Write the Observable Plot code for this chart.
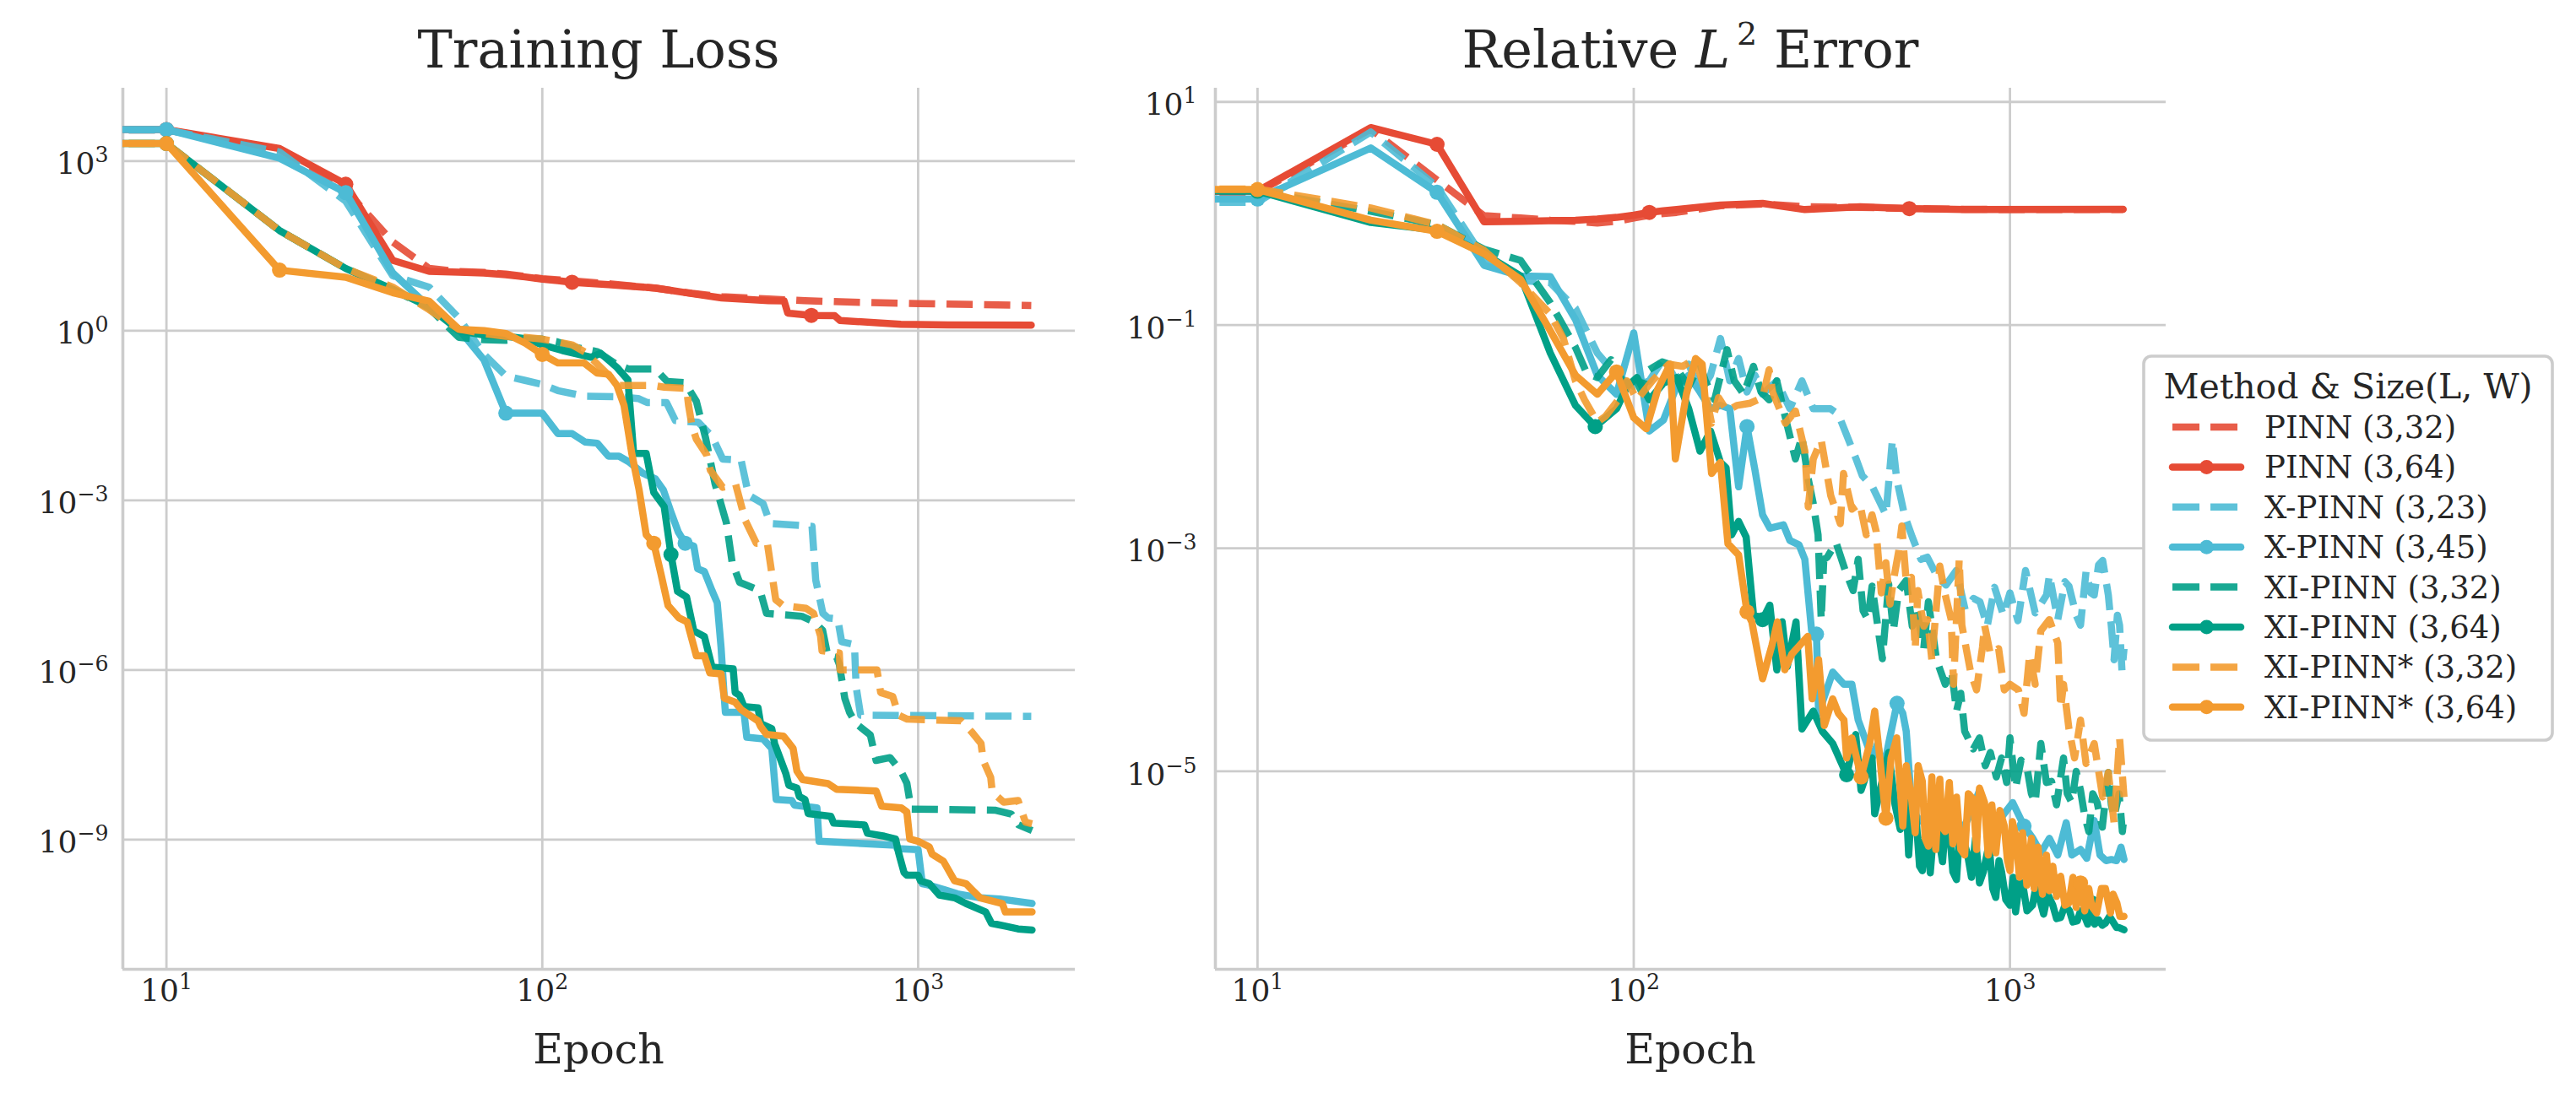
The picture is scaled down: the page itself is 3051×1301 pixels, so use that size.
<!DOCTYPE html>
<html><head><meta charset="utf-8">
<script src="https://cdn.jsdelivr.net/npm/d3@7"></script>
<script src="https://cdn.jsdelivr.net/npm/@observablehq/plot@0.6"></script>
<style>
body{margin:0;background:#fff;}
#fig{position:relative;width:3051px;height:1301px;overflow:hidden;background:#fff;font-family:"DejaVu Serif",serif;color:#262626;}
#fig svg{position:absolute;top:0;}
</style></head>
<body><div id="fig"></div>
<script>
// ---------- series meta ----------
const seriesNames = ["PINN (3,32)","PINN (3,64)","X-PINN (3,23)","X-PINN (3,45)","XI-PINN (3,32)","XI-PINN (3,64)","XI-PINN* (3,32)","XI-PINN* (3,64)"];
const seriesColors = ["#E64B35","#E64B35","#4DBBD5","#4DBBD5","#00A087","#00A087","#F39B2F","#F39B2F"];
const seriesDashed = [true,false,true,false,true,false,true,false];

// ---------- Training loss: [epoch, log10(loss)] ----------
const lossPINN32 = [[0,3.55],[10,3.55],[20,3.20],[30,2.49],[40,1.57],[50,1.10],[60,1.045],[70,1.03],[80,1.0],[90,0.96],[100,0.92],[120,0.88],[150,0.83],[200,0.75],[250,0.66],[300,0.60],[400,0.56],[500,0.53],[700,0.50],[1000,0.48],[1500,0.46],[2000,0.445]];
const lossPINN64 = [[0,3.56],[10,3.557],[20,3.22],[30,2.59],[40,1.244],[50,1.05],[60,1.035],[70,1.02],[80,0.99],[90,0.95],[100,0.91],[110,0.885],[120,0.856],[130,0.84],[150,0.815],[200,0.754],[250,0.655],[300,0.58],[400,0.531],[440,0.525],[450,0.31],[520,0.27],[600,0.265],[620,0.18],[900,0.113],[1200,0.10],[2000,0.098]];
const lossXPINN23 = [[0,3.55],[10,3.55],[20,3.16],[30,2.29],[40,0.97],[50,0.77],[60,0.224],[70,-0.42],[80,-0.80],[90,-0.88],[100,-0.95],[110,-1.06],[130,-1.16],[160,-1.17],[180,-1.2],[190,-1.27],[214,-1.27],[226,-1.59],[260,-1.62],[283,-1.87],[302,-2.27],[338,-2.29],[354,-2.91],[387,-3.06],[404,-3.41],[522,-3.46],[534,-4.41],[558,-5.0],[576,-5.08],[611,-5.1],[626,-5.5],[677,-5.55],[684,-6.3],[703,-6.8],[2000,-6.82]];
const lossXPINN45 = [[0,3.557],[10,3.557],[20,3.05],[30,2.44],[40,1.02],[50,0.42],[60,0.025],[70,-0.52],[80,-1.46],[90,-1.46],[100,-1.46],[110,-1.82],[120,-1.82],[130,-1.97],[140,-1.99],[150,-2.22],[160,-2.22],[170,-2.32],[185,-2.52],[200,-2.62],[210,-2.82],[220,-3.21],[230,-3.56],[240,-3.76],[253,-3.81],[259,-4.21],[270,-4.26],[283,-4.6],[292,-4.81],[299,-5.6],[305,-6.5],[307,-6.75],[344,-6.75],[350,-7.19],[387,-7.22],[408,-7.39],[419,-8.29],[461,-8.31],[469,-8.39],[538,-8.44],[545,-9.03],[871,-9.1],[880,-9.16],[1000,-9.18],[1026,-9.78],[1060,-9.8],[1167,-9.88],[1273,-9.96],[1462,-10.03],[1649,-10.05],[2010,-10.13]];
const lossXI32 = [[0,3.31],[10,3.31],[20,1.77],[30,1.10],[40,0.73],[50,0.40],[60,-0.12],[70,-0.16],[80,-0.17],[90,-0.14],[100,-0.15],[110,-0.2],[120,-0.28],[130,-0.33],[140,-0.37],[158,-0.6],[170,-0.68],[200,-0.68],[215,-0.9],[240,-0.92],[257,-1.25],[272,-1.9],[288,-2.7],[309,-3.4],[320,-4.1],[335,-4.45],[380,-4.6],[395,-5.0],[490,-5.05],[528,-5.15],[557,-5.3],[575,-5.75],[607,-5.78],[617,-5.9],[638,-6.5],[657,-6.75],[684,-6.95],[746,-7.15],[773,-7.6],[842,-7.55],[902,-7.8],[933,-8.0],[958,-8.46],[1600,-8.48],[1770,-8.55],[1850,-8.74],[2010,-8.84]];
const lossXI64 = [[0,3.31],[10,3.31],[20,1.77],[30,1.10],[40,0.73],[50,0.42],[60,0.0],[70,-0.08],[80,-0.10],[90,-0.14],[100,-0.25],[113,-0.35],[135,-0.47],[143,-0.40],[158,-0.65],[169,-0.87],[175,-2.17],[189,-2.17],[198,-2.86],[211,-3.11],[220,-3.96],[229,-4.61],[242,-4.71],[253,-5.31],[270,-5.41],[283,-5.95],[322,-5.98],[326,-6.4],[335,-6.45],[344,-6.65],[375,-6.67],[381,-6.95],[408,-7.04],[415,-7.3],[445,-7.84],[453,-8.04],[476,-8.09],[483,-8.24],[500,-8.29],[510,-8.54],[586,-8.59],[596,-8.71],[720,-8.74],[733,-8.89],[813,-8.94],[871,-8.99],[887,-9.23],[917,-9.58],[933,-9.63],[1000,-9.63],[1015,-9.73],[1071,-9.78],[1138,-9.98],[1250,-10.03],[1340,-10.13],[1513,-10.28],[1567,-10.48],[1707,-10.53],[1845,-10.58],[2010,-10.6]];
const lossXIs32 = [[0,3.31],[10,3.31],[20,1.77],[30,1.10],[40,0.77],[50,0.37],[60,0.025],[70,-0.05],[80,-0.1],[90,-0.12],[100,-0.15],[110,-0.2],[120,-0.25],[130,-0.38],[160,-0.97],[198,-0.97],[211,-1.0],[242,-1.02],[245,-1.32],[250,-1.67],[257,-1.92],[274,-2.2],[280,-2.47],[302,-2.77],[327,-2.72],[339,-3.11],[347,-3.36],[371,-3.76],[397,-3.76],[418,-4.76],[437,-4.86],[503,-4.91],[527,-5.0],[550,-5.4],[555,-5.66],[617,-5.7],[620,-6.0],[724,-6.0],[777,-6.0],[795,-6.4],[856,-6.47],[887,-6.8],[935,-6.87],[1300,-6.9],[1390,-7.1],[1470,-7.3],[1490,-7.6],[1560,-7.9],[1575,-8.16],[1690,-8.34],[1845,-8.31],[1930,-8.69],[2010,-8.72]];
const lossXIs64 = [[0,3.31],[10,3.31],[20,1.07],[30,0.945],[40,0.672],[50,0.52],[60,0.025],[70,0.0],[80,-0.05],[90,-0.22],[100,-0.42],[110,-0.57],[129,-0.57],[140,-0.75],[150,-0.77],[158,-0.97],[165,-1.32],[173,-2.17],[181,-2.82],[189,-3.61],[198,-3.76],[207,-4.31],[216,-4.86],[231,-5.08],[243,-5.15],[257,-5.75],[270,-5.75],[279,-6.05],[299,-6.07],[305,-6.5],[326,-6.57],[338,-6.7],[356,-6.8],[375,-6.9],[381,-7.0],[395,-7.14],[438,-7.17],[453,-7.29],[465,-7.39],[476,-7.79],[493,-7.94],[576,-8.01],[607,-8.11],[773,-8.14],[800,-8.41],[902,-8.44],[933,-8.51],[950,-8.99],[1000,-9.03],[1071,-9.13],[1090,-9.26],[1167,-9.38],[1250,-9.73],[1341,-9.78],[1387,-9.88],[1462,-10.03],[1675,-10.13],[1706,-10.28],[2010,-10.28]];

// ---------- Relative L2 error: [epoch, log10(error)] ----------
const errPINN32 = [[0,0.17],[10,0.19],[20,0.756],[30,0.30],[40,-0.02],[50,-0.04],[60,-0.06],[70,-0.07],[80,-0.085],[90,-0.07],[100,-0.04],[110,-0.015],[120,0.0],[130,0.01],[170,0.07],[220,0.085],[285,0.06],[400,0.055],[540,0.045],[760,0.037],[2000,0.035]];
const errPINN64 = [[0,0.18],[10,0.2],[20,0.77],[30,0.62],[40,-0.074],[50,-0.07],[60,-0.065],[70,-0.06],[80,-0.05],[90,-0.035],[100,-0.015],[110,0.01],[120,0.025],[130,0.035],[170,0.076],[220,0.09],[285,0.035],[400,0.06],[540,0.044],[760,0.036],[2000,0.038]];
const errXPINN23 = [[0,0.10],[10,0.10],[20,0.73],[30,0.24],[40,-0.40],[50,-0.60],[60,-0.62],[70,-0.85],[80,-1.25],[90,-1.45],[100,-1.55],[110,-1.5],[120,-1.3],[130,-1.5],[140,-1.35],[150,-1.6],[160,-1.45],[170,-1.12],[180,-1.5],[190,-1.3],[200,-1.6],[210,-1.45],[220,-1.62],[240,-1.5],[260,-1.75],[280,-1.5],[300,-1.75],[333,-1.75],[350,-1.8],[390,-2.2],[405,-2.35],[431,-2.45],[468,-2.7],[487,-2.03],[500,-2.38],[525,-2.71],[550,-2.9],[580,-3.1],[603,-3.08],[640,-3.25],[676,-3.33],[720,-3.2],[760,-3.55],[800,-3.45],[832,-3.48],[870,-3.7],[910,-3.35],[960,-3.6],[1000,-3.4],[1050,-3.65],[1100,-3.2],[1167,-3.58],[1251,-3.42],[1273,-3.24],[1340,-3.64],[1400,-3.3],[1435,-3.34],[1500,-3.6],[1540,-3.69],[1593,-3.21],[1640,-3.4],[1675,-3.42],[1720,-3.15],[1764,-3.11],[1826,-3.42],[1860,-3.7],[1891,-4.0],[1930,-3.6],[1956,-3.69],[1985,-4.1],[2010,-3.9]];
const errXPINN45 = [[0,0.127],[10,0.13],[20,0.587],[30,0.19],[40,-0.464],[50,-0.56],[60,-0.565],[70,-0.95],[80,-1.45],[90,-1.62],[100,-1.07],[110,-1.95],[120,-1.85],[130,-1.55],[140,-1.45],[150,-1.6],[160,-1.75],[170,-1.72],[180,-1.75],[190,-2.45],[200,-1.91],[210,-2.3],[220,-2.7],[230,-2.82],[250,-2.79],[260,-2.93],[275,-2.97],[285,-3.1],[297,-3.74],[306,-3.77],[310,-4.48],[338,-4.11],[362,-4.22],[380,-4.22],[395,-4.54],[430,-4.88],[445,-4.75],[460,-5.01],[476,-4.75],[501,-4.39],[519,-4.48],[530,-4.64],[547,-5.28],[565,-5.41],[607,-5.49],[640,-5.3],[673,-5.54],[721,-5.62],[786,-5.38],[830,-5.17],[887,-5.54],[950,-5.41],[1017,-5.28],[1090,-5.49],[1150,-5.6],[1208,-5.73],[1273,-5.6],[1340,-5.75],[1411,-5.46],[1460,-5.75],[1540,-5.7],[1600,-5.78],[1675,-5.44],[1735,-5.75],[1800,-5.8],[1860,-5.79],[1920,-5.8],[1973,-5.68],[2010,-5.79]];
const errXI32 = [[0,0.2],[10,0.2],[20,0.02],[30,-0.1],[40,-0.32],[50,-0.42],[60,-0.8],[70,-1.2],[75,-1.43],[80,-1.47],[87,-1.31],[95,-1.55],[100,-1.45],[105,-1.6],[110,-1.4],[119,-1.33],[129,-1.37],[140,-1.55],[150,-1.35],[155,-1.5],[164,-1.67],[177,-1.22],[185,-1.5],[196,-1.62],[208,-1.37],[218,-1.6],[229,-1.67],[240,-1.5],[253,-1.83],[269,-2.2],[280,-2.0],[291,-2.38],[300,-2.6],[309,-2.88],[315,-3.64],[320,-3.1],[327,-3.08],[345,-2.95],[365,-3.2],[383,-3.38],[395,-3.1],[407,-3.56],[419,-3.64],[430,-3.34],[458,-3.99],[476,-3.32],[490,-3.74],[506,-3.38],[530,-3.29],[550,-3.7],[566,-3.56],[590,-3.9],[607,-3.48],[638,-4.0],[673,-4.22],[700,-4.1],[721,-4.46],[740,-4.3],[758,-4.64],[799,-4.8],[830,-4.7],[860,-4.95],[887,-4.83],[920,-5.05],[950,-4.88],[980,-5.1],[1000,-4.70],[1035,-5.15],[1070,-4.9],[1109,-4.96],[1140,-5.2],[1167,-5.28],[1208,-4.75],[1250,-5.1],[1290,-5.09],[1330,-5.3],[1388,-4.88],[1420,-5.2],[1460,-5.28],[1500,-5.0],[1540,-5.17],[1580,-5.4],[1621,-5.54],[1660,-5.2],[1705,-5.28],[1760,-5.5],[1826,-5.01],[1860,-5.3],[1891,-5.41],[1950,-5.2],[1990,-5.54],[2010,-5.4]];
const errXI64 = [[0,0.215],[10,0.2],[20,-0.08],[30,-0.15],[40,-0.36],[50,-0.56],[60,-1.25],[70,-1.72],[79,-1.91],[90,-1.75],[96,-1.55],[102,-1.47],[110,-1.67],[120,-1.52],[130,-1.47],[140,-1.75],[150,-2.13],[160,-1.95],[170,-2.23],[176,-2.28],[182,-2.88],[190,-2.76],[199,-2.9],[208,-3.59],[220,-3.64],[230,-3.51],[240,-4.09],[248,-3.66],[256,-4.06],[270,-3.66],[280,-4.62],[300,-4.46],[317,-4.64],[338,-4.75],[368,-5.03],[389,-4.67],[402,-5.17],[430,-4.88],[437,-5.38],[476,-4.83],[495,-5.3],[511,-5.52],[525,-5.0],[538,-5.75],[550,-5.2],[560,-5.3],[575,-5.85],[585,-5.89],[600,-5.4],[614,-5.91],[630,-5.45],[640,-5.5],[662,-5.81],[675,-5.45],[690,-5.5],[705,-5.9],[721,-5.97],[735,-5.55],[750,-5.6],[772,-5.75],[790,-5.95],[810,-5.6],[830,-6.0],[850,-5.9],[880,-5.65],[900,-6.05],[917,-6.13],[935,-5.8],[950,-5.9],[975,-6.15],[1000,-6.2],[1020,-5.95],[1035,-6.26],[1060,-6.0],[1080,-6.0],[1110,-6.25],[1148,-6.2],[1170,-6.05],[1190,-6.1],[1229,-6.28],[1260,-6.1],[1300,-6.2],[1330,-6.32],[1364,-6.31],[1400,-6.2],[1440,-6.25],[1470,-6.35],[1510,-6.34],[1540,-6.25],[1580,-6.3],[1610,-6.37],[1650,-6.18],[1680,-6.37],[1720,-6.33],[1760,-6.38],[1794,-6.36],[1840,-6.3],[1880,-6.35],[1920,-6.4],[1950,-6.4],[2010,-6.42]];
const errXIs32 = [[0,0.215],[10,0.22],[20,0.05],[30,-0.1],[40,-0.33],[50,-0.62],[60,-0.9],[65,-1.12],[70,-1.5],[74,-1.67],[80,-1.87],[84,-1.82],[91,-1.67],[96,-1.5],[102,-1.67],[112,-1.5],[124,-1.35],[135,-1.37],[146,-1.3],[155,-1.6],[161,-1.88],[168,-1.65],[177,-1.77],[188,-1.72],[204,-1.70],[220,-1.65],[229,-1.4],[234,-1.6],[253,-1.88],[269,-1.77],[285,-2.13],[291,-2.63],[300,-2.2],[315,-2.03],[334,-2.53],[354,-2.78],[361,-2.33],[380,-2.65],[399,-2.6],[415,-2.88],[430,-2.7],[441,-2.85],[455,-3.4],[468,-3.13],[480,-3.5],[490,-3.29],[506,-3.03],[516,-2.8],[530,-3.3],[547,-3.26],[560,-3.9],[569,-3.38],[590,-3.7],[604,-3.64],[620,-4.0],[651,-3.16],[673,-3.42],[698,-3.64],[708,-4.22],[733,-3.1],[745,-3.69],[786,-4.11],[815,-4.27],[845,-3.89],[856,-3.69],[887,-3.95],[933,-3.9],[966,-4.27],[1000,-4.22],[1053,-4.27],[1090,-4.48],[1128,-3.95],[1167,-4.22],[1208,-3.74],[1273,-3.64],[1340,-3.85],[1364,-4.43],[1388,-4.22],[1435,-4.62],[1485,-4.88],[1540,-4.54],[1593,-4.93],[1675,-4.75],[1764,-5.23],[1826,-5.01],[1891,-5.46],[1956,-4.7],[2010,-5.23]];
const errXIs64 = [[0,0.215],[10,0.215],[20,-0.06],[30,-0.16],[40,-0.36],[50,-0.59],[60,-1.05],[70,-1.45],[80,-1.62],[90,-1.42],[100,-1.83],[108,-1.93],[116,-1.57],[125,-1.35],[129,-2.2],[138,-1.62],[146,-1.3],[152,-1.35],[161,-2.33],[170,-2.23],[178,-2.96],[190,-3.06],[200,-3.57],[206,-3.66],[220,-4.17],[233,-3.87],[241,-3.66],[252,-4.09],[263,-3.95],[290,-3.79],[298,-4.35],[310,-4.0],[321,-4.59],[338,-4.35],[350,-4.48],[362,-4.54],[368,-4.88],[380,-4.70],[402,-5.05],[424,-4.75],[437,-4.46],[451,-4.88],[468,-5.42],[483,-4.88],[500,-4.70],[519,-5.49],[530,-4.95],[547,-5.23],[560,-5.55],[570,-4.95],[585,-5.09],[595,-5.6],[607,-5.67],[620,-5.05],[635,-5.7],[651,-5.07],[660,-5.5],[673,-5.54],[690,-5.1],[705,-5.65],[721,-5.23],[740,-5.7],[758,-5.75],[775,-5.2],[799,-5.25],[815,-5.7],[830,-5.15],[856,-5.28],[875,-5.75],[895,-5.3],[917,-5.73],[940,-5.35],[966,-5.49],[985,-5.8],[1000,-5.89],[1015,-5.45],[1035,-5.57],[1060,-5.95],[1080,-5.55],[1109,-6.02],[1140,-5.6],[1160,-6.05],[1188,-5.68],[1220,-6.1],[1250,-5.75],[1273,-6.07],[1300,-5.85],[1330,-6.12],[1364,-5.94],[1400,-6.2],[1435,-6.18],[1470,-5.95],[1500,-6.22],[1540,-6.0],[1580,-6.25],[1620,-6.05],[1650,-6.21],[1700,-6.27],[1750,-6.05],[1794,-6.05],[1850,-6.27],[1880,-6.1],[1924,-6.18],[1960,-6.3],[2010,-6.3]];

const lossSeries = [lossPINN32, lossPINN64, lossXPINN23, lossXPINN45, lossXI32, lossXI64, lossXIs32, lossXIs64];
const errSeries = [errPINN32, errPINN64, errXPINN23, errXPINN45, errXI32, errXI64, errXIs32, errXIs64];
// epochs carrying a marker (solid series)
const lossMarkers = [[], [10,30,120,520], [], [10,30,80,240], [], [10,220], [], [10,20,100,198]];
const errMarkers = [[], [10,30,110,540], [], [10,30,200,306,501,1090], [], [10,79,220,368,1650], [], [10,30,90,200,402,468,1540]];

// ticks
const xTicks = [10, 100, 1000];
const lossYTicks = [1e3, 1e0, 1e-3, 1e-6, 1e-9];
const errYTicks = [1e1, 1e-1, 1e-3, 1e-5];

// ---------- drawing ----------
const GRID = "#cccccc";
const toRows = (pairs) => pairs.map(([e, lv]) => ({epoch: e, value: Math.pow(10, lv)}));
const xPos = d => d.epoch === 0 ? 1 : d.epoch;   // epoch 0 lies left of the log axis
const fmtPow = d => "10^" + String(Math.round(Math.log10(d))).replace("-", "\u2212");

function panel(seriesList, markerList, yTicks, xDomain, yDomain, left, width, mLeft, mRight, ytickGap) {
  const marks = [
    Plot.ruleX(xTicks, {x: d => d, stroke: GRID, strokeWidth: 2.8}),
    Plot.ruleY(yTicks, {y: d => d, stroke: GRID, strokeWidth: 2.8}),
    Plot.ruleX([xDomain[0]], {x: d => d, stroke: GRID, strokeWidth: 3.6}),
    Plot.ruleY([yDomain[0]], {y: d => d, stroke: GRID, strokeWidth: 3.6}),
  ];
  seriesList.forEach((pairs, i) => {
    const rows = toRows(pairs);
    const dashed = seriesDashed[i];
    marks.push(Plot.line(rows, {
      x: xPos, y: "value", stroke: seriesColors[i], strokeWidth: 8.5,
      strokeOpacity: dashed ? 0.9 : 1,
      strokeDasharray: dashed ? "31,13.5" : undefined,
      strokeLinejoin: "round", strokeLinecap: dashed ? "butt" : "round", clip: true
    }));
    const mk = rows.filter(r => markerList[i].includes(r.epoch));
    if (mk.length) marks.push(Plot.dot(mk, {x: xPos, y: "value", r: 9, fill: seriesColors[i], stroke: "none"}));
  });
  marks.push(Plot.text(xTicks, {x: d => d, text: fmtPow, frameAnchor: "bottom", dy: 37.5, fontSize: 36, textAnchor: "middle"}));
  marks.push(Plot.text(yTicks, {y: d => d, text: fmtPow, frameAnchor: "left", dx: -ytickGap, dy: 4, fontSize: 36, textAnchor: "end"}));
  const svg = Plot.plot({
    width, height: 1301,
    marginLeft: mLeft, marginRight: mRight, marginTop: 104, marginBottom: 153,
    x: {type: "log", domain: xDomain, axis: null},
    y: {type: "log", domain: yDomain, axis: null},
    style: {fontFamily: "'DejaVu Serif', serif", fontSize: "36px", color: "#262626", background: "transparent", overflow: "visible"},
    marks
  });
  // render "10^k" labels with a raised exponent
  const ns = "http://www.w3.org/2000/svg";
  svg.querySelectorAll("text").forEach(t => {
    if (!t.textContent.includes("^")) return;
    const [base, exp] = t.textContent.split("^");
    t.textContent = "";
    const a = document.createElementNS(ns, "tspan"); a.textContent = base; t.appendChild(a);
    const b = document.createElementNS(ns, "tspan"); b.textContent = exp;
    b.setAttribute("dy", "-14"); b.setAttribute("font-size", "25.2px"); t.appendChild(b);
  });
  svg.style.left = left + "px";
  return svg;
}

const fig = document.getElementById("fig");
fig.appendChild(panel(lossSeries, lossMarkers, lossYTicks,
  [Math.pow(10, 0.884), Math.pow(10, 3.418)], [Math.pow(10, -11.294), Math.pow(10, 4.288)],
  0, 1290, 145, 17, 17));
fig.appendChild(panel(errSeries, errMarkers, errYTicks,
  [Math.pow(10, 0.888), Math.pow(10, 3.415)], [Math.pow(10, -6.774), Math.pow(10, 1.123)],
  1300, 1300, 139, 35, 22));

// ---------- titles, axis labels, legend ----------
const ov = d3.create("svg").attr("width", 3051).attr("height", 1301)
  .style("left", "0px").attr("font-family", "'DejaVu Serif', serif").attr("fill", "#262626");
ov.append("text").attr("x", 709).attr("y", 80).attr("text-anchor", "middle").attr("font-size", 62).text("Training Loss");
const t2 = ov.append("text").attr("x", 2002).attr("y", 80).attr("text-anchor", "middle").attr("font-size", 62);
t2.append("tspan").text("Relative ");
t2.append("tspan").attr("font-style", "italic").text("L");
t2.append("tspan").attr("font-size", 38).attr("dx", 8).attr("dy", -27).text("2");
t2.append("tspan").attr("dy", 27).text(" Error");
ov.append("text").attr("x", 709).attr("y", 1260).attr("text-anchor", "middle").attr("font-size", 49).text("Epoch");
ov.append("text").attr("x", 2002).attr("y", 1260).attr("text-anchor", "middle").attr("font-size", 49).text("Epoch");

const lg = ov.append("g");
lg.append("rect").attr("x", 2539).attr("y", 422).attr("width", 484).attr("height", 455).attr("rx", 9)
  .attr("fill", "white").attr("stroke", GRID).attr("stroke-width", 3.6);
lg.append("text").attr("x", 2781).attr("y", 472).attr("text-anchor", "middle").attr("font-size", 41).text("Method & Size(L, W)");
seriesNames.forEach((name, i) => {
  const by = 519 + 47.4 * i, ly = by - 13;
  const ln = lg.append("line").attr("x1", 2573).attr("x2", 2654).attr("y1", ly).attr("y2", ly)
    .attr("stroke", seriesColors[i]).attr("stroke-width", 8.5)
    .attr("stroke-opacity", seriesDashed[i] ? 0.9 : 1);
  if (seriesDashed[i]) ln.attr("stroke-dasharray", "32,13").attr("stroke-linecap", "butt");
  else { ln.attr("stroke-linecap", "round"); lg.append("circle").attr("cx", 2613.5).attr("cy", ly).attr("r", 8.5).attr("fill", seriesColors[i]); }
  lg.append("text").attr("x", 2682).attr("y", by).attr("font-size", 37).text(name);
});
fig.appendChild(ov.node());
</script>
</body></html>
